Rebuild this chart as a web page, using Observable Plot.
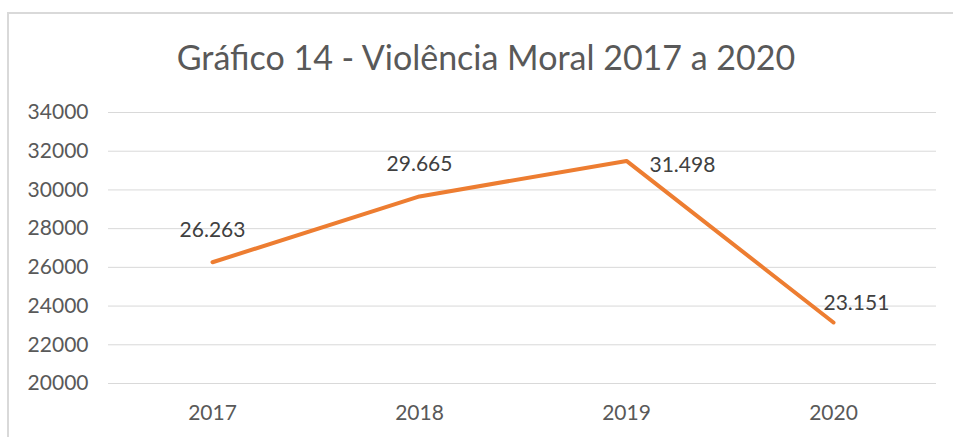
<!DOCTYPE html>
<html><head><meta charset="utf-8">
<script src="https://cdn.jsdelivr.net/npm/d3@7"></script>
<script src="https://cdn.jsdelivr.net/npm/@observablehq/plot@0.6"></script>
<style>
body{margin:0;background:#fff;}
#wrap{position:relative;width:953px;height:437px;overflow:hidden;font-family:Lato,"Open Sans",sans-serif;}
#frame{position:absolute;left:7px;top:12px;width:1000px;height:500px;border-top:2px solid #d9d9d9;border-left:2px solid #d9d9d9;}
#title{position:absolute;left:0;width:972px;top:36px;text-align:center;font-size:34px;color:#595959;}
#chart{position:absolute;left:0;top:90px;}
</style></head>
<body>
<div id="wrap"><div id="frame"></div><div id="title">Gráfico 14 - Violência Moral 2017 a 2020</div><div id="chart"></div></div>
<script>
const years = ["2017","2018","2019","2020"];
const values = [26263, 29665, 31498, 23151];
const yTicks = [20000,22000,24000,26000,28000,30000,32000,34000];
const title = "Gráfico 14 - Violência Moral 2017 a 2020";

const data = years.map((y,i)=>({year:y, value:values[i]}));
const br = d3.formatLocale({decimal:",", thousands:".", grouping:[3], currency:["R$",""]});
const fmt = br.format(",d");

const plot = Plot.plot({
  width:953, height:347,
  marginTop:22, marginBottom:54, marginLeft:108, marginRight:17,
  style:{fontFamily:"Lato, 'Open Sans', sans-serif", background:"transparent"},
  x:{type:"point", domain:years, padding:0.5, label:null},
  y:{domain:[20000,34000], label:null},
  marks:[
    Plot.gridY(yTicks, {stroke:"#d9d9d9", strokeOpacity:1, strokeWidth:1}),
    Plot.axisY(yTicks, {tickSize:0, tickPadding:20, fontSize:21, fill:"#595959", tickFormat:d=>String(d)}),
    Plot.axisX({tickSize:0, tickPadding:22, fontSize:21, fill:"#595959"}),
    Plot.line(data, {x:"year", y:"value", stroke:"#ED7D31", strokeWidth:4, strokeLinecap:"round", strokeLinejoin:"round"}),
    Plot.text(data.slice(0,2), {x:"year", y:"value", text:d=>fmt(d.value), dy:-32, fontSize:21, fill:"#404040"}),
    Plot.text(data.slice(2,3), {x:"year", y:"value", text:d=>fmt(d.value), dx:23, dy:4, textAnchor:"start", fontSize:21, fill:"#404040"}),
    Plot.text(data.slice(3,4), {x:"year", y:"value", text:d=>fmt(d.value), dx:-10, dy:-19, textAnchor:"start", fontSize:21, fill:"#404040"})
  ]
});
document.getElementById("chart").appendChild(plot);
</script>
</body></html>
